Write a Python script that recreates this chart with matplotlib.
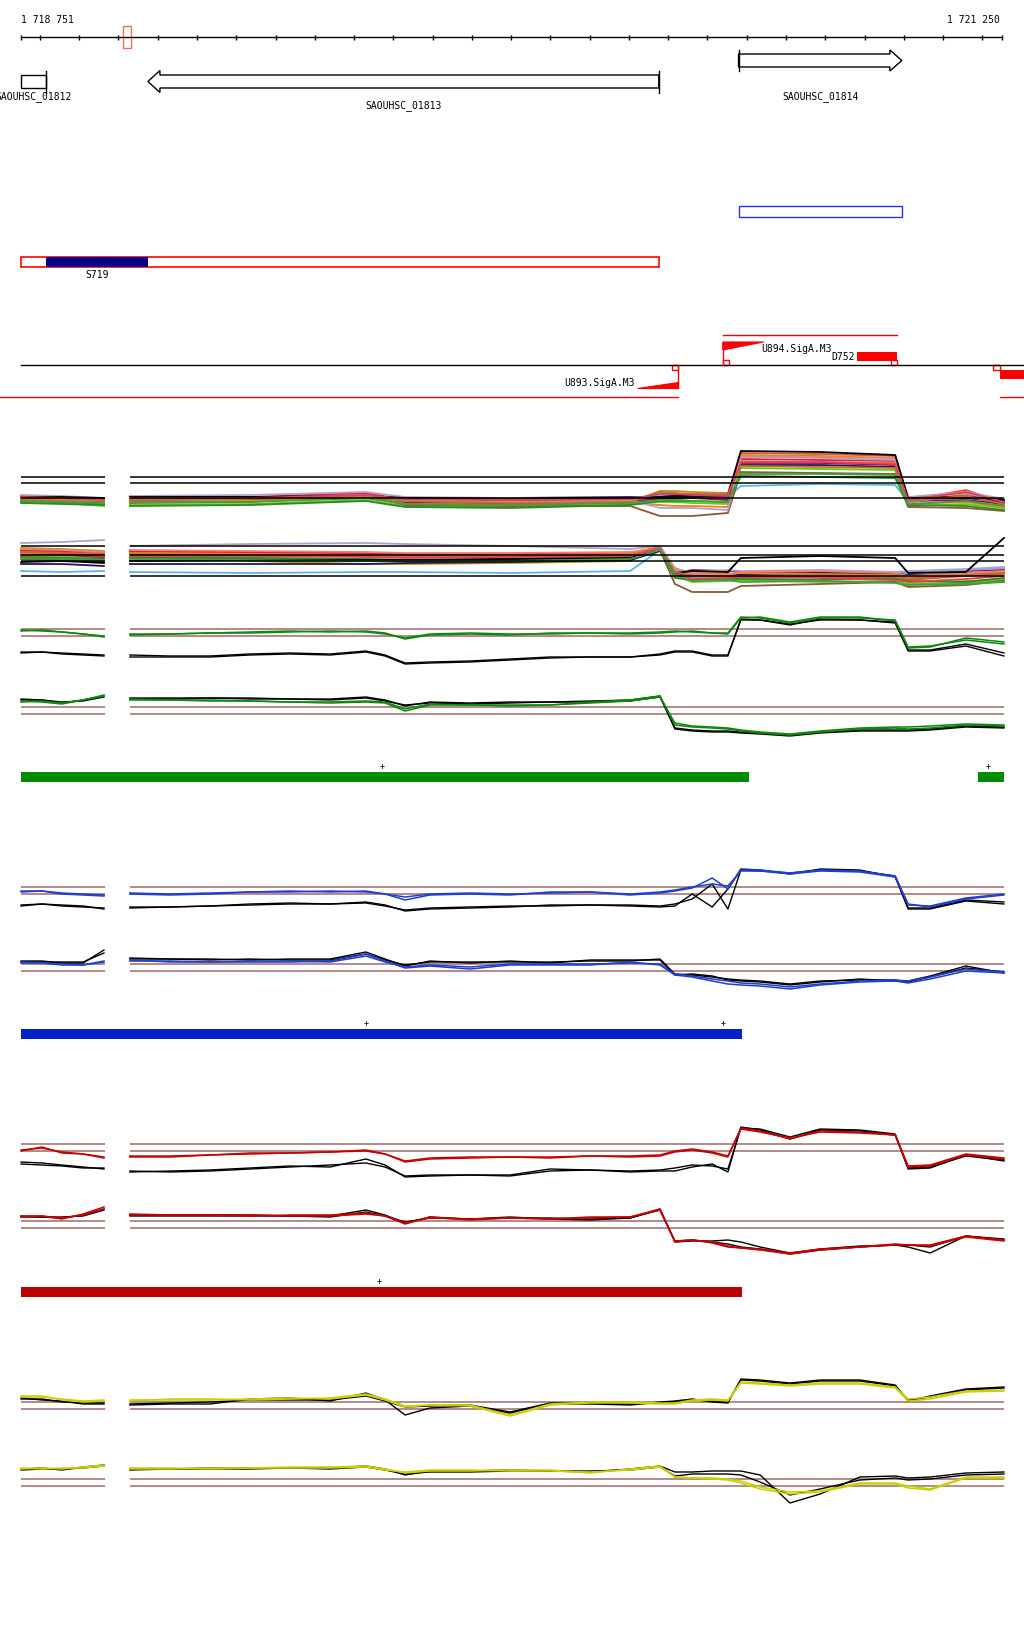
import numpy as np
import matplotlib
matplotlib.use('Agg')
import matplotlib.pyplot as plt
from matplotlib.patches import Rectangle, Polygon

# ---------------- data ----------------
WIN_START, WIN_END = 1718751, 1721250

GENE_NAMES = ['SAOUHSC_01812', 'SAOUHSC_01813', 'SAOUHSC_01814']
GENE_START = [1718600, 1719075, 1720579]
GENE_END = [1718816, 1720376, 1720995]
GENE_STRAND = ['-', '-', '+']

SRNA_NAME = 'S719'
SRNA_START, SRNA_END = 1718816, 1719076

TSS_NAMES = ['U893.SigA.M3', 'U894.SigA.M3']
TSS_POS = [1720424, 1720539]
TSS_STRAND = ['-', '+']

TERM_NAMES = ['D752', '']
TERM_START = [1720881, 1721245]
TERM_END = [1720983, 1721400]
TERM_STRAND = ['+', '-']

PLUS_SPANS = [(1720539, 1720983)]
MINUS_SPANS = [(1718600, 1720424), (1721245, 1721400)]

GREEN_BARS = [(1718751, 1720606), (1721188, 1721255)]
BLUE_BARS = [(1718751, 1720588)]
RED_BARS = [(1718751, 1720588)]
GREEN_PLUS = [1719671, 1721214]
BLUE_PLUS = [1719630, 1720539]
RED_PLUS = [1719664]

SEGMENTS = [(1718751, 1718966), (1719029, 1721255)]

# profile positions (5 knots left of the gap, 30 right of it)
POS = [1718752, 1718805, 1718856, 1718910, 1718963,
       1719029, 1719131, 1719233, 1719335, 1719437, 1719539, 1719630, 1719679, 1719730, 1719793,
       1719895, 1719997, 1720099, 1720201, 1720303, 1720379, 1720417, 1720461, 1720512, 1720552,
       1720585, 1720634, 1720710, 1720787, 1720888, 1720978, 1721011, 1721067, 1721158, 1721255]

GREEN_A = [
    [5, 6, 4, 2, -1, 2, 2, 3, 4, 5, 4, 5, 3, -3, 1, 2, 1, 3, 3, 2, 3, 4, 5, 3, 3,
     19, 18, 13, 18, 18, 16, -11, -10, -4, -8],
    [6, 5, 4, 2, 0, 1, 2, 3, 3, 4, 5, 4, 2, -2, 2, 3, 2, 2, 3, 3, 4, 5, 4, 3, 2,
     18, 19, 14, 19, 19, 15, -12, -11, -2, -6]]
GREEN_A_BLACK = [
    [-17, -16, -18, -19, -20, -21, -21, -21, -19, -18, -19, -16, -20, -28, -27, -26, -24, -22, -21, -21,
     -19, -16, -16, -20, -20, 17, 16, 11, 17, 16, 13, -15, -15, -10, -20],
    [-16, -16, -17, -18, -19, -19, -20, -20, -18, -17, -18, -15, -19, -27, -26, -25, -23, -21, -21, -21,
     -18, -15, -15, -19, -19, 16, 16, 12, 16, 16, 14, -14, -14, -8, -17]]
GREEN_B = [
    [13, 12, 10, 14, 19, 15, 14, 14, 13, 12, 12, 13, 12, 5, 10, 9, 9, 9, 12, 14, 18, -11, -13, -14, -15,
     -17, -19, -21, -18, -15, -14, -15, -14, -11, -12],
    [12, 13, 11, 14, 18, 14, 14, 13, 13, 12, 11, 12, 11, 3, 9, 9, 8, 9, 11, 13, 17, -9, -12, -13, -14,
     -16, -18, -20, -17, -14, -13, -13, -12, -10, -11]]
GREEN_B_BLACK = [
    [14, 14, 11, 14, 18, 16, 16, 16, 16, 15, 15, 17, 14, 8, 12, 11, 12, 12, 13, 14, 18, -15, -17, -18, -18,
     -19, -20, -22, -19, -17, -17, -17, -16, -13, -14],
    [15, 14, 12, 13, 17, 15, 15, 16, 15, 15, 14, 16, 13, 9, 11, 10, 11, 12, 12, 13, 17, -14, -16, -17, -17,
     -18, -19, -21, -18, -16, -16, -16, -15, -12, -13]]

BLUE_A = [
    [2, 3, 0, -1, -2, 0, -1, 0, 2, 3, 2, 3, 0, -6, -1, 0, -1, 2, 2, -1, 1, 3, 6, 16, 5,
     24, 24, 21, 24, 23, 18, -10, -13, -5, -1],
    [3, 3, 1, 0, -1, 1, 0, 1, 2, 2, 3, 2, 0, -3, 0, 1, 0, 1, 2, 0, 2, 4, 7, 10, 8,
     23, 23, 20, 23, 22, 17, -11, -12, -4, 0]]
BLUE_A_BLACK = [
    [-12, -10, -11, -12, -15, -14, -13, -12, -10, -9, -10, -8, -11, -17, -15, -14, -13, -11, -11, -12,
     -13, -12, 0, -13, 5, 25, 24, 20, 25, 24, 17, -15, -15, -7, -10],
    [-11, -10, -12, -13, -14, -13, -13, -12, -11, -10, -10, -9, -12, -16, -14, -13, -12, -12, -11, -11,
     -12, -10, -5, 10, -15, 24, 23, 21, 24, 23, 18, -14, -14, -6, -8]]
BLUE_B = [
    [9, 8, 6, 6, 9, 11, 9, 9, 9, 9, 10, 17, 10, 3, 5, 2, 6, 6, 6, 9, 6, -4, -6, -10, -13,
     -14, -15, -18, -14, -11, -10, -12, -8, 0, -2],
    [8, 8, 7, 6, 10, 10, 10, 9, 10, 10, 9, 15, 9, 4, 6, 4, 7, 7, 7, 8, 7, -3, -5, -8, -10,
     -12, -13, -16, -13, -10, -9, -10, -6, 2, -1]]
BLUE_B_BLACK = [
    [10, 10, 8, 8, 21, 13, 12, 12, 11, 12, 12, 19, 12, 5, 10, 8, 10, 8, 11, 11, 11, -4, -3, -5, -9,
     -10, -11, -14, -11, -8, -10, -10, -5, 5, -2],
    [9, 9, 9, 9, 18, 12, 12, 11, 12, 11, 11, 17, 11, 6, 9, 9, 9, 9, 10, 10, 12, -3, -4, -6, -8,
     -9, -10, -13, -10, -9, -9, -11, -6, 3, -1]]

RED_A = [
    [0, 4, -2, -3, -7, -6, -6, -4, -3, -2, -1, 0, -3, -11, -8, -7, -6, -7, -5, -6, -5, -1, 1, -2, -6,
     23, 20, 12, 20, 19, 16, -16, -15, -4, -8],
    [1, 3, -1, -3, -6, -5, -5, -4, -2, -2, -1, 1, -3, -10, -7, -6, -6, -6, -5, -5, -4, 0, 2, -1, -5,
     22, 19, 13, 19, 18, 16, -15, -14, -3, -7]]
RED_A_BLACK = [
    [-11, -12, -14, -16, -18, -21, -20, -19, -17, -15, -16, -8, -14, -26, -25, -24, -25, -20, -19, -21,
     -20, -20, -16, -13, -21, 24, 21, 12, 21, 20, 16, -18, -17, -4, -10],
    [-13, -14, -15, -17, -17, -20, -21, -20, -18, -16, -14, -12, -16, -25, -24, -24, -24, -18, -19, -20,
     -19, -17, -14, -15, -18, 23, 22, 14, 22, 21, 17, -17, -16, -5, -9]]
RED_B = [
    [11, 12, 9, 14, 21, 14, 13, 13, 12, 13, 13, 15, 12, 4, 11, 8, 10, 9, 11, 11, 19, -14, -12, -15, -19,
     -20, -22, -26, -22, -19, -17, -17, -18, -9, -13],
    [12, 12, 10, 13, 19, 13, 13, 13, 13, 12, 12, 14, 12, 5, 10, 9, 10, 9, 10, 11, 18, -13, -12, -14, -18,
     -20, -21, -25, -21, -19, -16, -17, -17, -8, -12]]
RED_B_BLACK = [
    [12, 11, 10, 13, 19, 13, 13, 13, 13, 12, 12, 18, 13, 5, 11, 9, 11, 9, 8, 10, 19, -14, -13, -13, -12,
     -14, -19, -25, -21, -18, -17, -19, -25, -8, -11],
    [11, 11, 11, 12, 18, 12, 12, 12, 12, 12, 11, 16, 12, 6, 10, 9, 10, 10, 9, 10, 18, -13, -12, -14, -16,
     -19, -21, -26, -22, -19, -17, -17, -19, -8, -12]]

YELLOW_A = [
    [13, 13, 9, 7, 8, 8, 10, 10, 9, 10, 11, 15, 10, 3, 4, 4, -6, 5, 7, 7, 6, 6, 9, 10, 9,
     27, 26, 24, 26, 26, 22, 10, 12, 18, 19],
    [12, 12, 10, 8, 9, 9, 9, 9, 10, 11, 10, 14, 9, 2, 4, 3, -7, 4, 6, 6, 5, 5, 8, 9, 8,
     26, 25, 23, 25, 25, 21, 8, 10, 17, 18]]
YELLOW_A_BLACK = [
    [11, 9, 8, 5, 5, 4, 5, 5, 10, 11, 8, 16, 9, -6, 1, 3, -4, 5, 5, 4, 7, 8, 10, 7, 6,
     30, 29, 26, 29, 29, 24, 8, 13, 20, 22],
    [10, 10, 7, 6, 6, 5, 6, 7, 9, 9, 9, 13, 8, 2, 3, 4, -3, 6, 6, 5, 6, 7, 9, 8, 7,
     29, 28, 25, 28, 28, 23, 9, 12, 19, 21]]
YELLOW_B = [
    [17, 18, 17, 19, 21, 17, 17, 18, 18, 19, 19, 20, 17, 13, 15, 15, 16, 16, 13, 17, 20, 9, 8, 8, 7,
     5, -1, -6, -5, 3, 3, 0, -3, 9, 9],
    [18, 17, 18, 18, 20, 18, 18, 17, 18, 18, 18, 19, 16, 14, 16, 16, 15, 15, 14, 16, 19, 9, 8, 7, 6,
     3, -3, -8, -6, 2, 2, -2, -4, 8, 8]]
YELLOW_B_BLACK = [
    [17, 18, 16, 19, 21, 17, 17, 18, 18, 18, 18, 20, 17, 11, 15, 15, 16, 15, 14, 17, 20, 14, 14, 15, 15,
     15, 11, -17, -8, 9, 10, 8, 9, 13, 14],
    [16, 17, 17, 18, 20, 16, 17, 17, 17, 18, 17, 19, 16, 12, 14, 14, 15, 15, 15, 16, 19, 10, 12, 12, 12,
     11, 4, -9, -3, 6, 8, 6, 7, 11, 12]]

# multi-condition profiles (3 knots left of the gap, 16 right)
MPOS = [1718752, 1718856, 1718963, 1719029, 1719335, 1719630, 1719730, 1719997, 1720303, 1720379,
        1720417, 1720461, 1720552, 1720585, 1720787, 1720978, 1721011, 1721158, 1721255]
MULTI_A = [
    [2, 1, -2, -1, 0, 4, -1, -3, -2, 2, 3, 3, 0, 45, 44, 42, -2, 8, -5],
    [-1, -3, -4, -3, -2, 1, -5, -6, -4, 7, 7, 6, 5, 43, 42, 40, -5, 4, -8],
    [-4, -5, -8, -7, -6, -2, -8, -9, -6, -4, -4, -5, -6, 30, 29, 28, -8, -6, -10],
    [0, -1, -3, -2, -2, 2, -4, -5, -3, -1, -1, 0, -2, 35, 35, 33, -3, -2, -6],
    [-2, -2, -3, -1, -3, 0, -3, -4, -1, 3, 3, 4, 1, 12, 14, 13, -4, 3, -2],
    [-3, -4, -6, -5, -4, 3, -7, -8, -8, -18, -18, -18, -15, 26, 25, 24, -9, -10, -13],
    [1, 0, -1, 0, 1, 5, -2, -2, -1, 1, 2, 2, 2, 39, 38, 37, 0, 2, -3],
    [0, 0, -1, 1, 1, 2, 0, 0, 1, 0, 1, 1, 2, 33, 33, 31, -1, 0, -4],
    [-1, -2, -5, -4, -3, 0, -6, -7, -5, -7, -8, -8, -9, 37, 36, 35, -6, -4, -9],
    [3, 2, 0, 2, 3, 6, 1, 0, -2, -10, -10, -10, -12, 41, 40, 38, 1, 6, -1],
    [-5, -6, -7, -8, -7, -3, -9, -10, -7, -3, -3, -3, -4, 22, 21, 20, -7, -8, -12],
    [2, 0, -2, -1, 0, 3, -2, -4, -3, 5, 4, 4, 3, 42, 41, 40, -1, 5, -3],
    [1, 1, 0, 1, 1, 2, 0, -1, 0, 1, 2, 2, 3, 47, 46, 43, 0, 1, -2],
    [-2, -3, -4, -2, -1, 2, -3, -5, -4, 6, 5, 4, 4, 32, 31, 30, -3, 2, -6],
    [1, 0, -2, 0, 0, 3, -1, -2, -1, 4, 4, 3, 2, 36, 36, 34, -2, 6, -4],
    [-3, -4, -5, -4, -4, 0, -6, -7, -5, -2, -2, -3, -4, 24, 24, 23, -6, -3, -8]]
MULTI_B = [
    [25, 24, 22, 24, 23, 22, 21, 20, 22, 28, 5, -2, -3, -2, -1, -3, -4, 0, 2],
    [28, 27, 25, 26, 15, 12, 12, 13, 15, 29, 8, 2, 3, 0, 2, 1, -6, -5, -3],
    [20, 19, 18, 19, 18, 17, 16, 17, 19, 27, 0, -6, -5, -4, -6, -5, -8, -7, -4],
    [22, 21, 19, 21, 21, 20, 19, 18, 20, 27, 3, 6, 5, 4, 3, 2, 4, 5, 6],
    [5, 4, 5, 4, 3, 4, 4, 3, 5, 26, 2, -1, 0, 1, 2, 4, 3, 6, 8],
    [17, 16, 14, 18, 17, 16, 15, 14, 17, 26, -8, -16, -16, -10, -8, -6, -11, -9, -5],
    [26, 25, 24, 25, 24, 23, 22, 22, 23, 29, 4, 1, 2, 1, 0, -1, -2, 1, 3],
    [12, 12, 10, 12, 12, 12, 13, 14, 16, 25, 3, 0, 1, 2, 3, 2, 1, 2, 3],
    [23, 22, 21, 23, 22, 21, 20, 21, 22, 28, 6, 3, 2, 3, 2, 1, -1, 2, 4],
    [33, 34, 36, 30, 32, 33, 32, 30, 27, 30, 7, 4, 6, 5, 6, 4, 5, 7, 9],
    [19, 18, 17, 18, 18, 17, 16, 16, 18, 27, -2, -4, -3, -3, -4, -2, -5, -6, -2],
    [27, 26, 24, 26, 25, 24, 23, 23, 24, 28, 5, 2, 1, 4, 5, 3, 0, 3, 5],
    [14, 15, 13, 15, 16, 16, 16, 17, 18, 26, 3, 5, 4, 18, 20, 18, 3, 4, 38],
    [24, 23, 21, 22, 21, 20, 19, 19, 21, 28, 4, 0, -1, 0, 1, -1, -3, 1, 3],
    [21, 22, 20, 20, 20, 19, 18, 19, 20, 27, 2, -3, -2, -1, -2, -4, -6, -3, 0],
    [18, 17, 16, 17, 16, 15, 15, 15, 17, 26, 1, -5, -4, -6, -5, -7, -9, -8, -6]]
MULTI_A_REF = [21, 15, 0]
MULTI_B_REF = [30, 21, 15, 0]
PAIR_REF = [7, 0]

MULTI_COLORS = ['#e8502a', '#a89a1a', '#5fd000', '#9a0a6a', '#5ab4e8', '#8a5a3a', '#d82048',
                '#1a1a50', '#f08020', '#b4a0c8', '#2a8a2a', '#f08070', '#000000',
                '#c07030', '#e04060', '#40a040']

# ---------------- layout ----------------
W, H = 1024, 1640
PX0, PX1 = 20.7, 1002.0
PX_PER_BP = (PX1 - PX0) / (WIN_END - WIN_START)
XMIN = WIN_START - PX0 / PX_PER_BP
XMAX = XMIN + W / PX_PER_BP
BP = 1.0 / PX_PER_BP  # bp per pixel

FONT = dict(family='DejaVu Sans Mono', fontsize=7)
BROWN = '#a06868'
FEAT_RED = '#ff0000'

fig = plt.figure(figsize=(W / 100, H / 100), dpi=100)
fig.patch.set_facecolor('white')

ov = fig.add_axes([0, 0, 1, 1])
ov.set_xlim(XMIN, XMAX)
ov.set_ylim(H, 0)
ov.axis('off')

# ruler
ov.plot([WIN_START, WIN_END], [38.3, 38.3], color='black', lw=1)
ticks = [WIN_START] + list(range(1718800, WIN_END, 100)) + [WIN_END]
ov.vlines(ticks, 35.5, 41, color='black', lw=1)
ov.text(WIN_START, 20, '1 718 751', ha='left', va='center', **FONT)
ov.text(WIN_END - 2 * BP, 20, '1 721 250', ha='right', va='center', **FONT)
ov.add_patch(Rectangle((1719012, 27), 21, 22, fill=False, ec='#f07050', lw=1))

# genes
gene_rows = {'SAOUHSC_01812': (82.5, 6.5, 11, 97),
             'SAOUHSC_01813': (82.5, 6.5, 11, 106),
             'SAOUHSC_01814': (61.5, 6.5, 10.5, 97)}
head = 12 * BP
for name, s, e, strand in zip(GENE_NAMES, GENE_START, GENE_END, GENE_STRAND):
    yc, hb, hh, ly = gene_rows[name]
    lo, hi = max(s, WIN_START), min(e, WIN_END)
    if strand == '-':
        if s >= WIN_START:
            pts = [(lo, yc), (lo + head, yc - hh), (lo + head, yc - hb), (hi, yc - hb),
                   (hi, yc + hb), (lo + head, yc + hb), (lo + head, yc + hh)]
        else:
            pts = [(lo, yc - hb), (hi, yc - hb), (hi, yc + hb), (lo, yc + hb)]
        bar = hi
    else:
        pts = [(lo, yc - hb), (hi - head, yc - hb), (hi - head, yc - hh), (hi, yc),
               (hi - head, yc + hh), (hi - head, yc + hb), (lo, yc + hb)]
        bar = lo
    ov.add_patch(Polygon(pts, closed=True, fill=False, ec='black', lw=1))
    ov.plot([bar, bar], [yc - hh, yc + hh], color='black', lw=1)
    ov.text((lo + hi) / 2, ly, name, ha='center', va='center', **FONT)

# blue outline for the forward gene, red outline for the reverse one
ov.add_patch(Rectangle((GENE_START[2], 207), GENE_END[2] - GENE_START[2], 10.5,
                       fill=False, ec='#2030ff', lw=1))
ov.add_patch(Rectangle((WIN_START, 258), GENE_END[1] - WIN_START, 10,
                       fill=False, ec=FEAT_RED, lw=1.2))
ov.add_patch(Rectangle((SRNA_START, 258), SRNA_END - SRNA_START, 10, fc='#000088', ec='none'))
ov.text((SRNA_START + SRNA_END) / 2, 275, SRNA_NAME, ha='center', va='center', **FONT)

# promoter / terminator track
LINE_Y = 366
ov.plot([WIN_START, XMAX], [LINE_Y, LINE_Y], color='black', lw=1)
for a, b in PLUS_SPANS:
    ov.plot([a, b], [336, 336], color=FEAT_RED, lw=1)
for a, b in MINUS_SPANS:
    ov.plot([a, b], [397.5, 397.5], color=FEAT_RED, lw=1)

ramp = 104
sq_w, sq_h = 15, 5
for name, p, strand in zip(TSS_NAMES, TSS_POS, TSS_STRAND):
    if strand == '-':
        ov.plot([p, p], [LINE_Y, 389], color=FEAT_RED, lw=1)
        ov.add_patch(Polygon([(p - ramp, 389), (p, 389), (p, 383)], fc=FEAT_RED, ec=FEAT_RED, lw=0.8))
        ov.add_patch(Rectangle((p - sq_w, LINE_Y), sq_w, sq_h, fc='white', ec=FEAT_RED, lw=1))
        ov.text(p - ramp - 2 * BP, 383, name, ha='right', va='center', **FONT)
    else:
        ov.plot([p, p], [LINE_Y, 343], color=FEAT_RED, lw=1)
        ov.add_patch(Polygon([(p, 343), (p + ramp, 343), (p, 351)], fc=FEAT_RED, ec=FEAT_RED, lw=0.8))
        ov.add_patch(Rectangle((p, LINE_Y - sq_h), sq_w, sq_h, fc='white', ec=FEAT_RED, lw=1))
        ov.text(p + ramp - 2 * BP, 349, name, ha='left', va='center', **FONT)

for name, s, e, strand in zip(TERM_NAMES, TERM_START, TERM_END, TERM_STRAND):
    if strand == '+':
        ov.add_patch(Rectangle((s, 353), e - s, 9, fc=FEAT_RED, ec='none'))
        ov.add_patch(Rectangle((e - sq_w, LINE_Y - sq_h), sq_w, sq_h, fc='white', ec=FEAT_RED, lw=1))
        ov.text(s - 2 * BP, 357.5, name, ha='right', va='center', **FONT)
    else:
        ov.add_patch(Rectangle((s, 371), e - s, 9, fc=FEAT_RED, ec='none'))
        ov.add_patch(Rectangle((s - 18, LINE_Y), 18, sq_h, fc='white', ec=FEAT_RED, lw=1))

# coloured segment bars
for bars, plus, y, col in [(GREEN_BARS, GREEN_PLUS, 773, '#008c00'),
                           (BLUE_BARS, BLUE_PLUS, 1030, '#0022c8'),
                           (RED_BARS, RED_PLUS, 1288, '#bb0000')]:
    for a, b in bars:
        ov.add_patch(Rectangle((a, y), b - a, 10, fc=col, ec='none'))
    for p in plus:
        ov.text(p, y - 6, '+', ha='center', va='center', family='DejaVu Sans Mono', fontsize=6)


def panel(ref_px):
    ax = fig.add_axes([0, 1 - (ref_px + 40) / H, 1, 100 / H])
    ax.set_xlim(XMIN, XMAX)
    ax.set_ylim(-40, 60)
    ax.axis('off')
    ax.patch.set_alpha(0)
    return ax


def segments(n_left, n):
    return [slice(0, n_left), slice(n_left, n)]


def ref_lines(ax, values, color):
    for a, b in SEGMENTS:
        ax.hlines(values, a, b, color=color, lw=1.1, zorder=1)


# multi-condition panels
for ref_px, series, refs in [(499, MULTI_A, MULTI_A_REF), (577, MULTI_B, MULTI_B_REF)]:
    ax = panel(ref_px)
    for vals, col in zip(series, MULTI_COLORS):
        for sl in segments(3, len(MPOS)):
            ax.plot(MPOS[sl], vals[sl], color=col, lw=1.3, zorder=2)
    for a, b in SEGMENTS:
        ax.hlines(refs, a, b, color='black', lw=1.1, zorder=3)

# paired panels (condition colour vs black)
pairs = [(637, GREEN_A, GREEN_A_BLACK, '#0a8a0a'), (715, GREEN_B, GREEN_B_BLACK, '#0a8a0a'),
         (895, BLUE_A, BLUE_A_BLACK, '#1f3fd0'), (972, BLUE_B, BLUE_B_BLACK, '#1f3fd0'),
         (1152, RED_A, RED_A_BLACK, '#c80000'), (1229, RED_B, RED_B_BLACK, '#c80000'),
         (1410, YELLOW_A, YELLOW_A_BLACK, '#c8d000'), (1487, YELLOW_B, YELLOW_B_BLACK, '#c8d000')]
for ref_px, cols, blacks, col in pairs:
    ax = panel(ref_px)
    ref_lines(ax, PAIR_REF, BROWN)
    for vals in blacks:
        for sl in segments(5, len(POS)):
            ax.plot(POS[sl], vals[sl], color='black', lw=1.0, zorder=2)
    for vals in cols:
        for sl in segments(5, len(POS)):
            ax.plot(POS[sl], vals[sl], color=col, lw=1.1, zorder=3)

fig.savefig('out.png', dpi=100, facecolor='white')
